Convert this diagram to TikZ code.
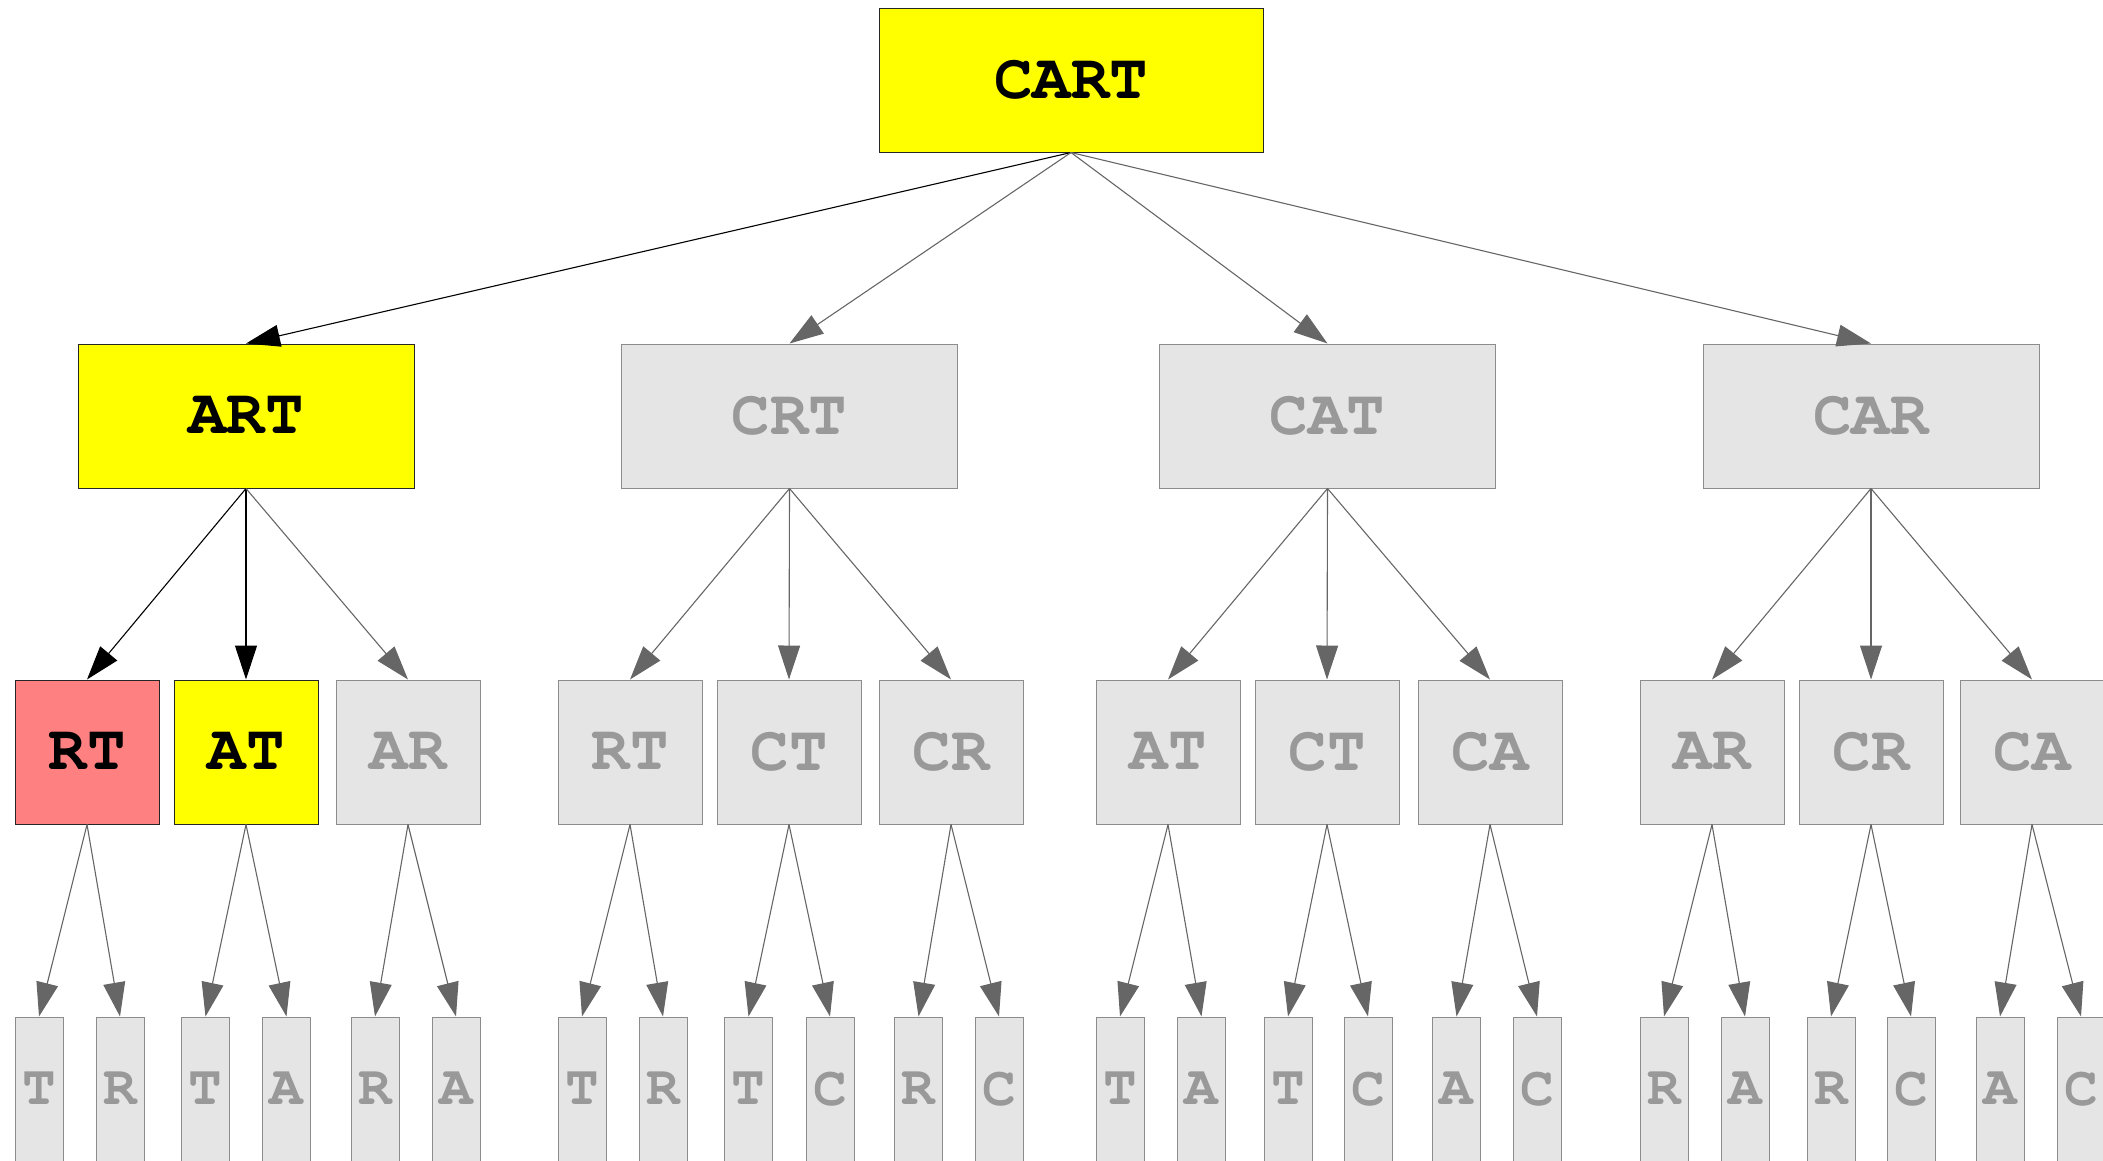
\documentclass[tikz,border=0pt]{standalone}
\usepackage[T1]{fontenc}
\usetikzlibrary{arrows.meta}
\definecolor{hiyel}{HTML}{FFFF00}
\definecolor{hired}{HTML}{FF8080}
\definecolor{offfill}{HTML}{E5E5E5}
\definecolor{offtext}{HTML}{999999}
\definecolor{offline}{HTML}{8C8C8C}
\definecolor{edgegray}{HTML}{666666}
\tikzset{
  x=1pt, y=-1pt,
  base/.style={draw, rectangle, inner sep=0pt, line width=1pt, font=\fontfamily{pcr}\fontseries{b}\fontsize{64}{64}\selectfont},
  wide/.style={base, minimum width=336pt, minimum height=144pt},
  sq/.style={base, minimum width=144pt, minimum height=144pt},
  leaf/.style={base, minimum width=48pt, minimum height=144pt, font=\fontfamily{pcr}\fontseries{b}\fontsize{56}{56}\selectfont},
  onY/.style={fill=hiyel, draw=black!85, text=black},
  onR/.style={fill=hired, draw=black!85, text=black},
  off/.style={fill=offfill, draw=offline, text=offtext},
  hiedge/.style={draw=black, line width=1.1pt, -{Triangle[length=34pt,width=22pt]}},
  loedge/.style={draw=edgegray, line width=1.1pt, -{Triangle[length=34pt,width=22pt]}}
}
\begin{document}
\begin{tikzpicture}
\useasboundingbox (0,0) rectangle (2103,1160);
\clip (0,0) rectangle (2103,1160);
% level 0
\node[base, onY, minimum width=384pt, minimum height=144pt] (c) at (1071,80) {CART};
% level 1
\node[wide, onY] (a1) at (246,416) {ART};
\node[wide, off] (a2) at (789.5,416) {CRT};
\node[wide, off] (a3) at (1327.5,416) {CAT};
\node[wide, off] (a4) at (1871,416) {CAR};
% level 2
\node[sq, onR] (b1) at (87,752) {RT};
\node[sq, onY] (b2) at (246,752) {AT};
\node[sq, off] (b3) at (408,752) {AR};
\node[sq, off] (b4) at (630,752) {RT};
\node[sq, off] (b5) at (789,752) {CT};
\node[sq, off] (b6) at (951,752) {CR};
\node[sq, off] (b7) at (1168,752) {AT};
\node[sq, off] (b8) at (1327,752) {CT};
\node[sq, off] (b9) at (1490,752) {CA};
\node[sq, off] (b10) at (1712,752) {AR};
\node[sq, off] (b11) at (1871,752) {CR};
\node[sq, off] (b12) at (2032,752) {CA};
% level 3
\node[leaf, off] (d1) at (39,1089) {T};
\node[leaf, off] (d2) at (120,1089) {R};
\node[leaf, off] (d3) at (205.5,1089) {T};
\node[leaf, off] (d4) at (286.5,1089) {A};
\node[leaf, off] (d5) at (375,1089) {R};
\node[leaf, off] (d6) at (456,1089) {A};
\node[leaf, off] (d7) at (582,1089) {T};
\node[leaf, off] (d8) at (663,1089) {R};
\node[leaf, off] (d9) at (748.5,1089) {T};
\node[leaf, off] (d10) at (830,1089) {C};
\node[leaf, off] (d11) at (918.5,1089) {R};
\node[leaf, off] (d12) at (999,1089) {C};
\node[leaf, off] (d13) at (1120,1089) {T};
\node[leaf, off] (d14) at (1201.5,1089) {A};
\node[leaf, off] (d15) at (1288,1089) {T};
\node[leaf, off] (d16) at (1368,1089) {C};
\node[leaf, off] (d17) at (1456.5,1089) {A};
\node[leaf, off] (d18) at (1537,1089) {C};
\node[leaf, off] (d19) at (1664,1089) {R};
\node[leaf, off] (d20) at (1745,1089) {A};
\node[leaf, off] (d21) at (1831,1089) {R};
\node[leaf, off] (d22) at (1911,1089) {C};
\node[leaf, off] (d23) at (2000,1089) {A};
\node[leaf, off] (d24) at (2081,1089) {C};
% edges level 0 -> 1
\draw[hiedge] (c.south) -- (a1.north);
\foreach \t in {a2,a3,a4} \draw[loedge] (c.south) -- (\t.north);
% edges level 1 -> 2
\draw[hiedge] (a1.south) -- (b1.north);
\draw[hiedge] (a1.south) -- (b2.north);
\draw[loedge] (a1.south) -- (b3.north);
\foreach \t in {b4,b5,b6} \draw[loedge] (a2.south) -- (\t.north);
\foreach \t in {b7,b8,b9} \draw[loedge] (a3.south) -- (\t.north);
\foreach \t in {b10,b11,b12} \draw[loedge] (a4.south) -- (\t.north);
% edges level 2 -> 3
\foreach \p/\l/\r in {b1/d1/d2, b2/d3/d4, b3/d5/d6, b4/d7/d8, b5/d9/d10, b6/d11/d12, b7/d13/d14, b8/d15/d16, b9/d17/d18, b10/d19/d20, b11/d21/d22, b12/d23/d24}{
  \draw[loedge] (\p.south) -- (\l.north);
  \draw[loedge] (\p.south) -- (\r.north);
}
\end{tikzpicture}
\end{document}
